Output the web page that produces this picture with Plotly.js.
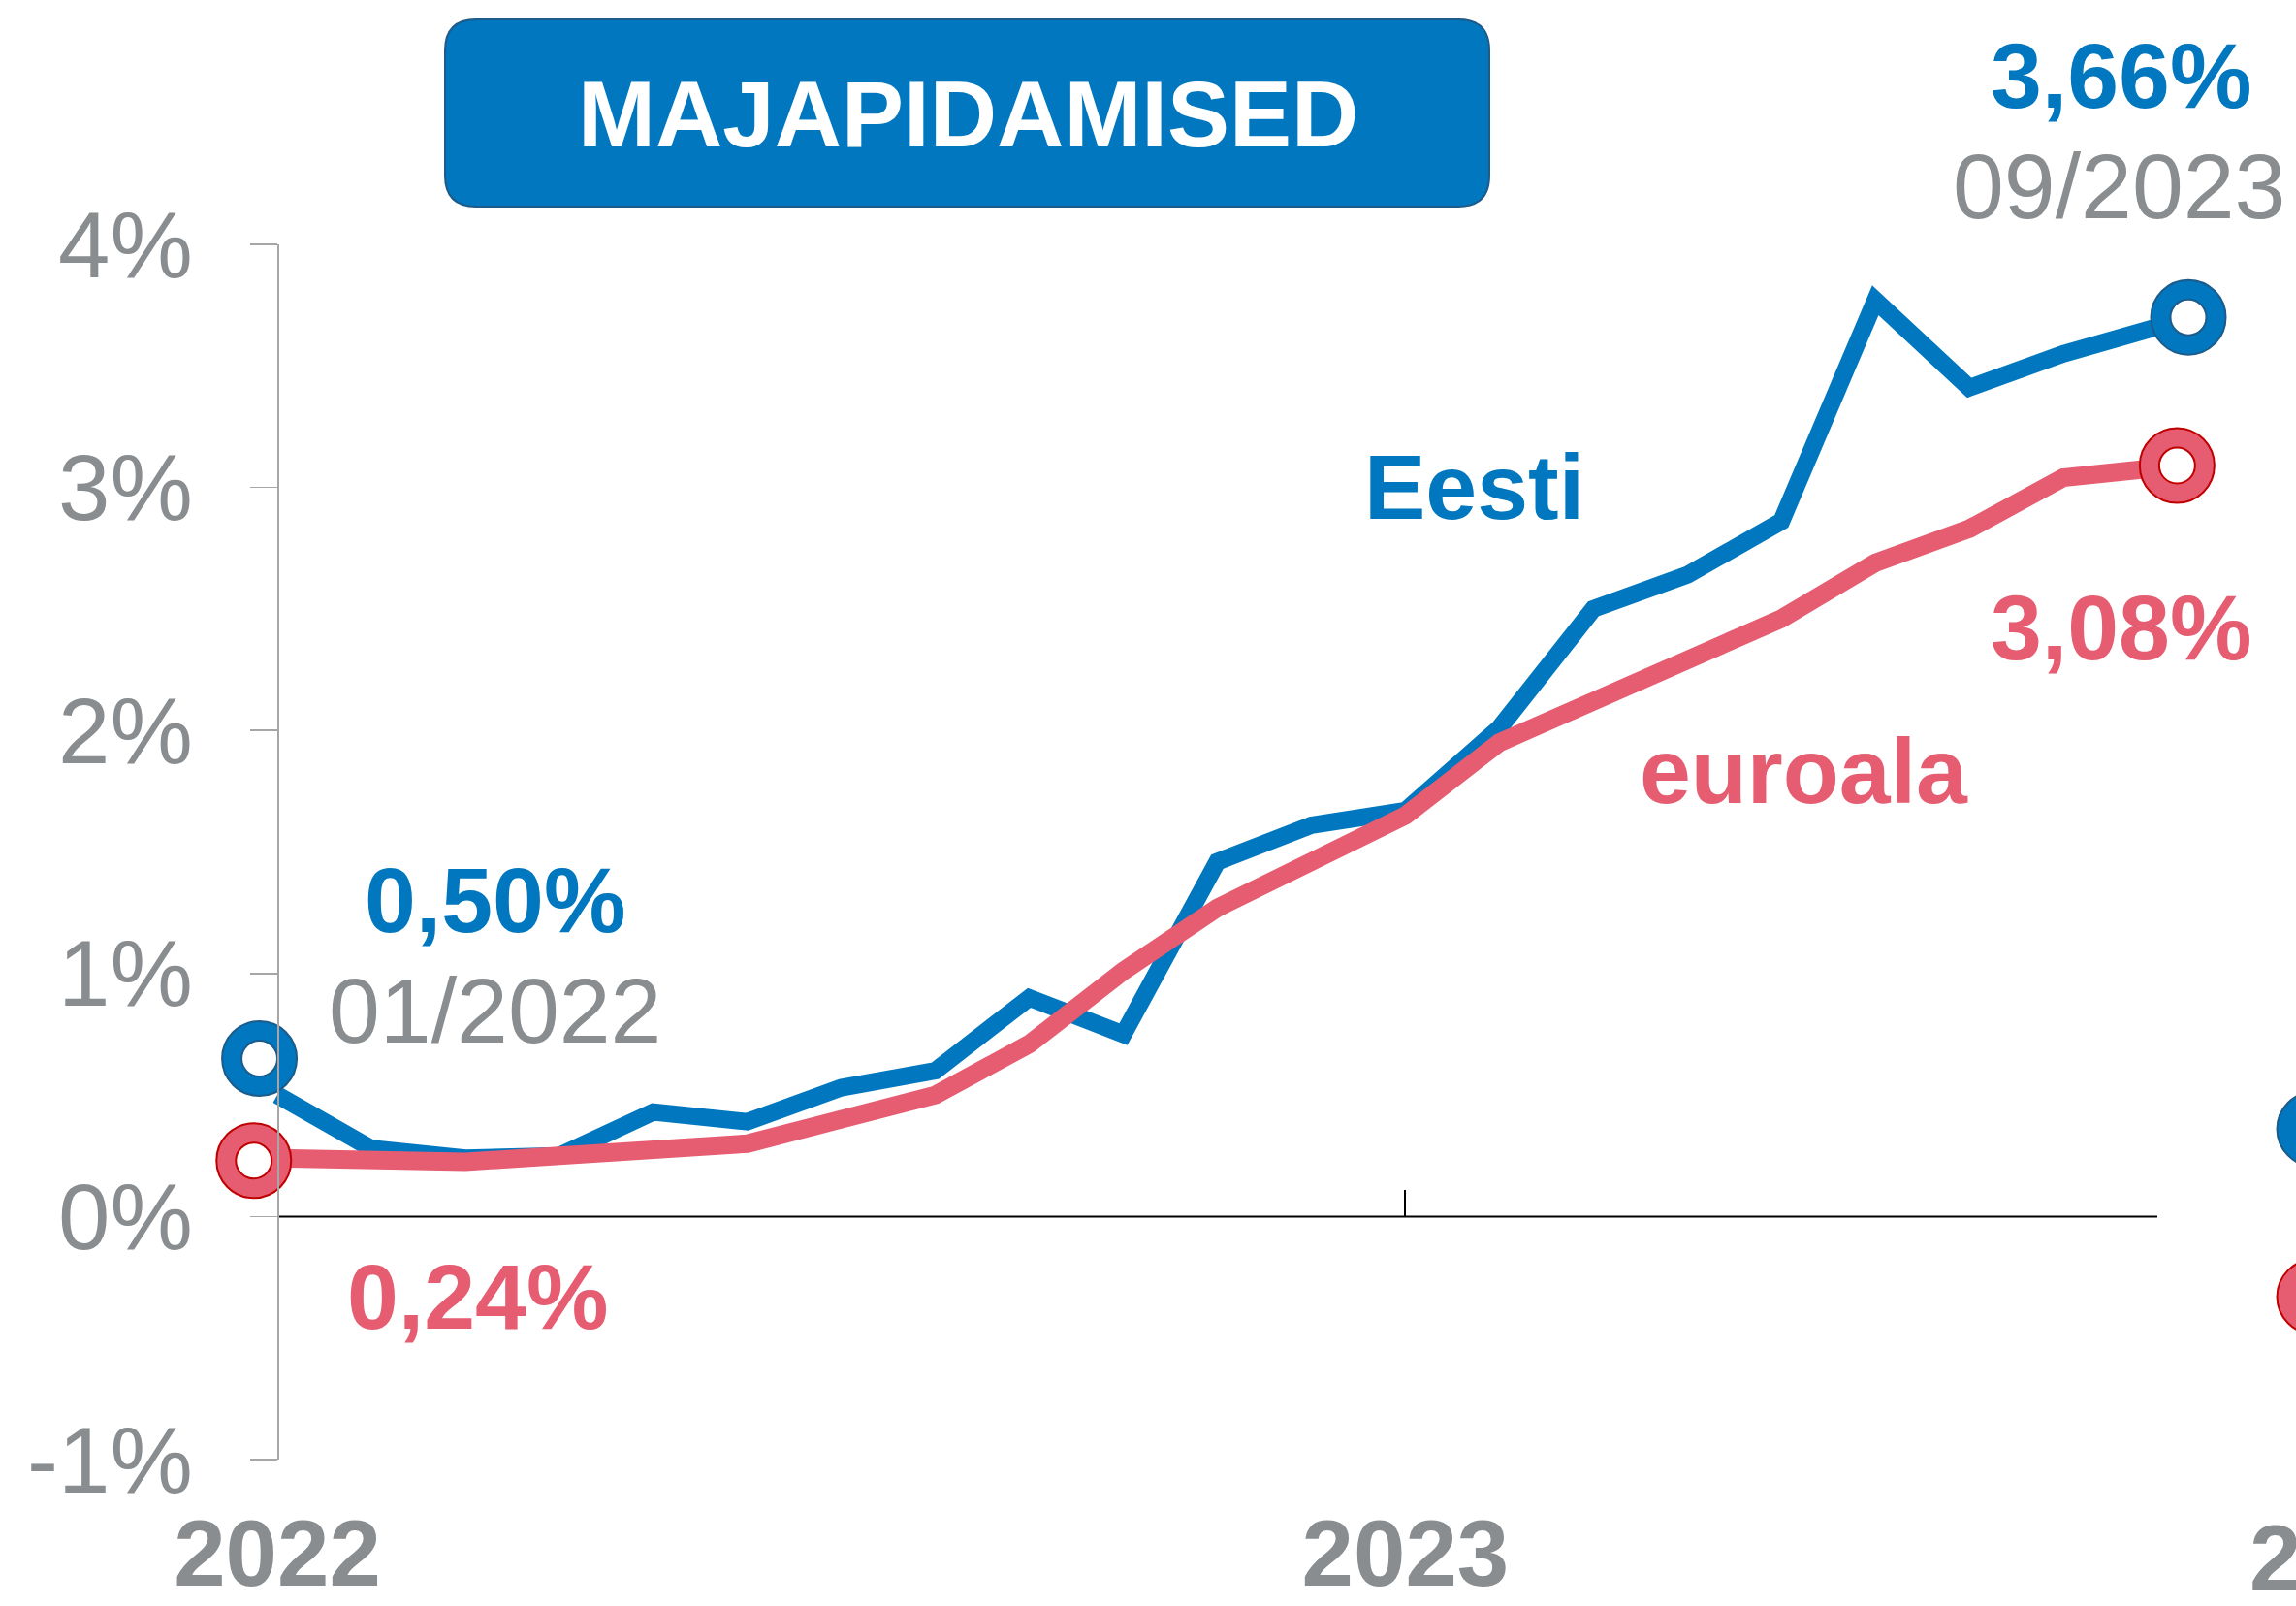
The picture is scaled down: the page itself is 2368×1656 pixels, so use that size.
<!DOCTYPE html>
<html>
<head>
<meta charset="utf-8">
<script src="https://cdn.plot.ly/plotly-3.0.1.min.js"></script>
<style>
  html, body { margin: 0; padding: 0; background: #ffffff; overflow: hidden; width: 2368px; height: 1656px; }
  #chart { width: 2420px; height: 1656px; }
</style>
</head>
<body>
<div id="chart"></div>
<script>
// ---------------- DATA ----------------
// month index since 01/2022
const kuuIndeks = [0, 1, 2, 3, 4, 5, 6, 7, 8, 9, 10, 11, 12, 13, 14, 15, 16, 17, 18, 19, 20];
const kuuNimed = ['01/2022','02/2022','03/2022','04/2022','05/2022','06/2022','07/2022','08/2022',
                  '09/2022','10/2022','11/2022','12/2022','01/2023','02/2023','03/2023','04/2023',
                  '05/2023','06/2023','07/2023','08/2023','09/2023'];
const eesti   = [0.50, 0.28, 0.24, 0.25, 0.43, 0.39, 0.53, 0.60, 0.90, 0.75, 1.46, 1.61,
                 1.67, 2.01, 2.50, 2.64, 2.86, 3.77, 3.41, 3.55, 3.66];
const euroala = [0.24, 0.225, 0.225, 0.25, 0.27, 0.30, 0.40, 0.50, 0.71, 1.01, 1.27, 1.47,
                 1.65, 1.95, 2.12, 2.29, 2.46, 2.69, 2.83, 3.04, 3.08];

// start / end ring markers as placed in the picture (month index, %)
const eestiRingX = [-0.19, 20.33];
const eestiRingY = [0.65, 3.70];
const euroRingX  = [-0.25, 20.21];
const euroRingY  = [0.23, 3.09];

// first values of the neighbouring panel, visible at the right edge
const naaberKuu     = [0];
const naaberEesti   = [0.36];
const naaberEuroala = [-0.33];

const yTickVals = [-1, 0, 1, 2, 3, 4];
const yTickText = ['-1%', '0%', '1%', '2%', '3%', '4%'];
const aastaVals = [0, 12];
const aastaText = ['2022', '2023'];
const pealkiri  = 'MAJAPIDAMISED';

// ---------------- STYLE / GEOMETRY ----------------
const FONT = 'Liberation Sans, Arial, Helvetica, sans-serif';
const BLUE = '#0077BE';
const BLUE_DARK = '#1C5B8A';
const PINK = '#E65C70';
const RED_DARK = '#C00000';
const GRAY = '#898D8F';

const FIG_W = 2420, FIG_H = 1656;       // page crops at 2368
const DL = 220, DR = 2420;              // plot domain in px
const T = 252, B = 1505;                // plot domain top/bottom px
const X0PX = 286, X20PX = 2225;         // where month 0 and month 20 fall
const perMonth = (X20PX - X0PX) / 20;
const xRange = [(DL - X0PX) / perMonth, (DR - X0PX) / perMonth];
const NEIGHBOUR_PX = 2387;              // neighbour panel's first month
const nShift = (NEIGHBOUR_PX - X0PX) / perMonth;

const px = x => (x - DL) / (DR - DL);
const py = y => (B - y) / (B - T);
const fmt = v => v.toFixed(2).replace('.', ',') + '%';

function ringTraces(xs, ys, fill, edge, name) {
  return [
    { x: xs, y: ys, type: 'scatter', mode: 'markers', name: name, cliponaxis: false,
      hoverinfo: 'skip',
      marker: { symbol: 'circle', size: 77, color: fill, line: { color: edge, width: 2 } } },
    { x: xs, y: ys, type: 'scatter', mode: 'markers', name: name, cliponaxis: false,
      hoverinfo: 'skip',
      marker: { symbol: 'circle', size: 37, color: '#ffffff', line: { color: edge, width: 2 } } }
  ];
}

const last = eesti.length - 1;

const traces = [
  { x: kuuIndeks, y: eesti, text: kuuNimed, type: 'scatter', mode: 'lines', name: 'Eesti',
    line: { color: BLUE, width: 18 } },
  { x: kuuIndeks, y: euroala, text: kuuNimed, type: 'scatter', mode: 'lines', name: 'euroala',
    line: { color: PINK, width: 19 } },
  ...ringTraces(eestiRingX, eestiRingY, BLUE, BLUE_DARK, 'Eesti'),
  ...ringTraces(euroRingX, euroRingY, PINK, RED_DARK, 'euroala'),
  // neighbouring panel (cut off by the right edge)
  { x: naaberKuu, y: naaberEesti, xaxis: 'x3', type: 'scatter', mode: 'markers', cliponaxis: false,
    hoverinfo: 'skip', marker: { size: 77, color: BLUE, line: { color: BLUE_DARK, width: 2 } } },
  { x: naaberKuu, y: naaberEuroala, xaxis: 'x3', type: 'scatter', mode: 'markers', cliponaxis: false,
    hoverinfo: 'skip', marker: { size: 77, color: PINK, line: { color: RED_DARK, width: 2 } } }
];

function roundedRect(x0, y0, x1, y1, r) {
  const P = (x, y) => px(x).toFixed(5) + ',' + py(y).toFixed(5);
  return 'M' + P(x0 + r, y0) + ' L' + P(x1 - r, y0) + ' Q' + P(x1, y0) + ' ' + P(x1, y0 + r) +
         ' L' + P(x1, y1 - r) + ' Q' + P(x1, y1) + ' ' + P(x1 - r, y1) +
         ' L' + P(x0 + r, y1) + ' Q' + P(x0, y1) + ' ' + P(x0, y1 - r) +
         ' L' + P(x0, y0 + r) + ' Q' + P(x0, y0) + ' ' + P(x0 + r, y0) + ' Z';
}

function ann(text, x, y, color, bold, size) {
  return { text: text, xref: 'paper', yref: 'paper', x: px(x), y: py(y),
           xanchor: 'center', yanchor: 'middle', showarrow: false,
           font: { family: FONT, size: size || 95, color: color, weight: bold ? 700 : 400 } };
}

const annotations = [
  ann(pealkiri, 998, 118, '#ffffff', true, 96),
  ann(fmt(eesti[last]), 2187, 78, BLUE, true),
  ann(kuuNimed[last], 2185, 192, GRAY, false),
  ann('Eesti', 1520, 502, BLUE, true),
  ann('euroala', 1860, 795, PINK, true),
  ann(fmt(euroala[last]), 2187, 647, PINK, true),
  ann(fmt(eesti[0]), 510, 928, BLUE, true),
  ann(kuuNimed[0], 510, 1042, GRAY, false),
  ann(fmt(euroala[0]), 492, 1337, PINK, true),
  ann(aastaText[0], 2427, 1606, GRAY, true, 96)   // neighbour panel's year label
];

const layout = {
  width: FIG_W, height: FIG_H,
  margin: { l: DL, r: FIG_W - DR, t: T, b: FIG_H - B, pad: 0 },
  paper_bgcolor: '#ffffff', plot_bgcolor: '#ffffff',
  showlegend: false,
  hovermode: false,
  font: { family: FONT, color: GRAY },
  xaxis: {
    range: xRange, anchor: 'free', position: 0.2,
    showgrid: false, zeroline: false, showline: false,
    tickmode: 'array', tickvals: aastaVals, ticktext: aastaText,
    ticks: '', ticklabelstandoff: 284,
    tickfont: { family: FONT, size: 96, color: GRAY, weight: 700 },
    minor: { tickmode: 'array', tickvals: [aastaVals[1]], ticks: 'inside', ticklen: 27,
             tickwidth: 2, tickcolor: '#000000', showgrid: false }
  },
  xaxis3: {
    overlaying: 'x', range: [xRange[0] - nShift, xRange[1] - nShift], visible: false
  },
  yaxis: {
    range: [-1, 4], anchor: 'free', position: px(X0PX),
    showgrid: false, zeroline: false,
    showline: true, linecolor: '#A6A6A6', linewidth: 1.5,
    ticks: 'outside', ticklen: 28, tickwidth: 1.5, tickcolor: '#A6A6A6',
    tickmode: 'array', tickvals: yTickVals, ticktext: yTickText,
    ticklabelstandoff: 40,
    tickfont: { family: FONT, size: 96, color: GRAY }
  },
  shapes: [
    // x-axis line at 0 %, spanning the data months
    { type: 'line', xref: 'x', yref: 'y', x0: kuuIndeks[0], x1: kuuIndeks[last], y0: 0, y1: 0,
      layer: 'below', line: { color: '#000000', width: 2 } },
    // title box
    { type: 'path', xref: 'paper', yref: 'paper', layer: 'above',
      path: roundedRect(459, 20, 1536, 213, 32),
      fillcolor: BLUE, line: { color: BLUE_DARK, width: 2 } }
  ],
  annotations: annotations
};

Plotly.newPlot('chart', traces, layout, { displayModeBar: false, staticPlot: true });
</script>
</body>
</html>
